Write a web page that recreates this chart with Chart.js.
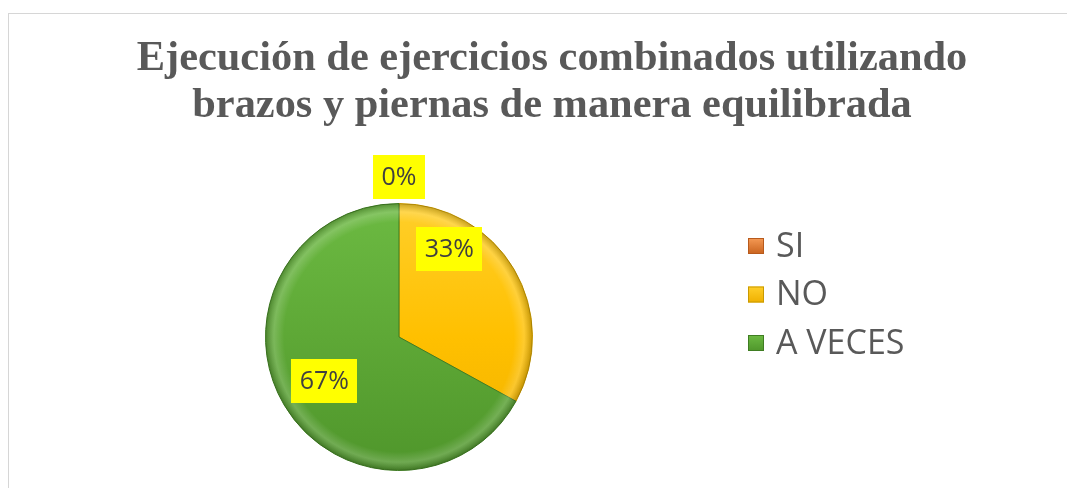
<!DOCTYPE html>
<html><head><meta charset="utf-8">
<script src="https://cdn.jsdelivr.net/npm/chart.js@4.4.1/dist/chart.umd.min.js"></script>
<style>
html,body{margin:0;padding:0;background:#fff;overflow:hidden;width:1067px;height:488px;}
#frame{position:absolute;left:8px;top:13px;width:1086px;height:474px;border-top:1px solid #d6d6d6;border-left:1px solid #d6d6d6;}
canvas{display:block;}
</style></head><body>
<div id="frame"><canvas id="c" width="1086" height="474"></canvas></div>
<script>
// ---- data ----
const titleLines = ['Ejecución de ejercicios combinados utilizando', 'brazos y piernas de manera equilibrada'];
const categories = ['SI', 'NO', 'A VECES'];
const values = [0, 33, 67];
const percentLabels = ['0%', '33%', '67%'];

// ---- styling ----
const palettes = [
  ['#f59a55', '#ed7d31', '#c9631e'],
  ['#ffcf2a', '#ffc000', '#efb000'],
  ['#6cba42', '#5ea836', '#4f962b']
];
const borderColors = ['#b85a1c', '#c99a00', '#3f7d22'];
const labelPlacement = [
  {angleFrac: 0, radius: 1.2},
  {angleFrac: 0.25, radius: 0.76},
  {angleFrac: 0.5, radius: 0.65}
];

function sliceFill(context) {
  const chart = context.chart;
  const a = chart.chartArea;
  const p = palettes[context.dataIndex];
  if (!a) return p[1];
  const cy = (a.top + a.bottom) / 2, r = Math.min(a.width, a.height) / 2;
  const g = chart.ctx.createLinearGradient(0, cy - r, 0, cy + r);
  g.addColorStop(0, p[0]);
  g.addColorStop(0.5, p[1]);
  g.addColorStop(1, p[2]);
  return g;
}

const titlePlugin = {
  id: 'customTitle',
  beforeDraw(chart) {
    const ctx = chart.ctx;
    ctx.save();
    ctx.font = 'bold 42.4px "Liberation Serif", "Times New Roman", serif';
    ctx.fillStyle = '#595959';
    ctx.textAlign = 'center';
    ctx.textBaseline = 'alphabetic';
    const cx = chart.width / 2;
    titleLines.forEach((t, i) => ctx.fillText(t, cx, 56 + i * 47));
    ctx.restore();
  }
};

const bevelPlugin = {
  id: 'bevel',
  afterDatasetDraw(chart) {
    const ctx = chart.ctx;
    const meta = chart.getDatasetMeta(0);
    meta.data.forEach((el, i) => {
      const {x, y, startAngle, endAngle, outerRadius} = el.getProps(['x','y','startAngle','endAngle','outerRadius'], true);
      if (endAngle - startAngle < 1e-6) return;
      ctx.save();
      ctx.beginPath();
      ctx.moveTo(x, y);
      ctx.arc(x, y, outerRadius, startAngle, endAngle);
      ctx.closePath();
      ctx.clip();
      const g = ctx.createRadialGradient(x, y, outerRadius * 0.86, x, y, outerRadius);
      g.addColorStop(0, 'rgba(255,255,255,0)');
      g.addColorStop(0.55, 'rgba(255,255,255,0.18)');
      g.addColorStop(1, 'rgba(0,0,0,0.22)');
      ctx.fillStyle = g;
      ctx.fillRect(x - outerRadius, y - outerRadius, outerRadius * 2, outerRadius * 2);
      ctx.restore();
    });
  }
};

const labelPlugin = {
  id: 'pctLabels',
  afterDatasetsDraw(chart) {
    const ctx = chart.ctx;
    const meta = chart.getDatasetMeta(0);
    ctx.save();
    ctx.font = '25px "Open Sans", sans-serif';
    ctx.textAlign = 'center';
    ctx.textBaseline = 'middle';
    meta.data.forEach((el, i) => {
      const {x, y, startAngle, endAngle, outerRadius} = el.getProps(['x','y','startAngle','endAngle','outerRadius'], true);
      const pl = labelPlacement[i];
      const ang = startAngle + pl.angleFrac * (endAngle - startAngle);
      const lx = x + Math.cos(ang) * outerRadius * pl.radius;
      const ly = y + Math.sin(ang) * outerRadius * pl.radius;
      const txt = percentLabels[i];
      const w = ctx.measureText(txt).width + 17;
      const h = 44;
      ctx.fillStyle = '#ffff00';
      ctx.fillRect(Math.round(lx - w / 2), Math.round(ly - h / 2), Math.round(w), h);
      ctx.fillStyle = '#404040';
      ctx.fillText(txt, lx, ly + 1);
    });
    ctx.restore();
  }
};

const legendPlugin = {
  id: 'sideLegend',
  afterDraw(chart) {
    const ctx = chart.ctx;
    ctx.save();
    ctx.font = '34px "Open Sans", sans-serif';
    ctx.textAlign = 'left';
    ctx.textBaseline = 'middle';
    const x0 = 739, y0 = 232, step = 48.5, s = 16;
    categories.forEach((c, i) => {
      const yc = y0 + i * step;
      const p = palettes[i];
      const g = ctx.createLinearGradient(0, yc - s / 2, 0, yc + s / 2);
      g.addColorStop(0, p[0]); g.addColorStop(1, p[2]);
      ctx.fillStyle = g;
      ctx.fillRect(x0, yc - s / 2, s, s);
      ctx.strokeStyle = borderColors[i];
      ctx.lineWidth = 1;
      ctx.strokeRect(x0 + 0.5, yc - s / 2 + 0.5, s - 1, s - 1);
      ctx.fillStyle = '#595959';
      ctx.fillText(c, 767, yc + 1);
    });
    ctx.restore();
  }
};

new Chart(document.getElementById('c'), {
  type: 'pie',
  data: {
    labels: categories,
    datasets: [{
      data: values,
      backgroundColor: sliceFill,
      borderColor: borderColors,
      borderWidth: 1
    }]
  },
  options: {
    responsive: false,
    animation: false,
    layout: {padding: {top: 189, bottom: 17, left: 256, right: 562}},
    plugins: {
      legend: {display: false},
      title: {display: false},
      tooltip: {enabled: false}
    }
  },
  plugins: [titlePlugin, bevelPlugin, labelPlugin, legendPlugin]
});
</script>
</body></html>
